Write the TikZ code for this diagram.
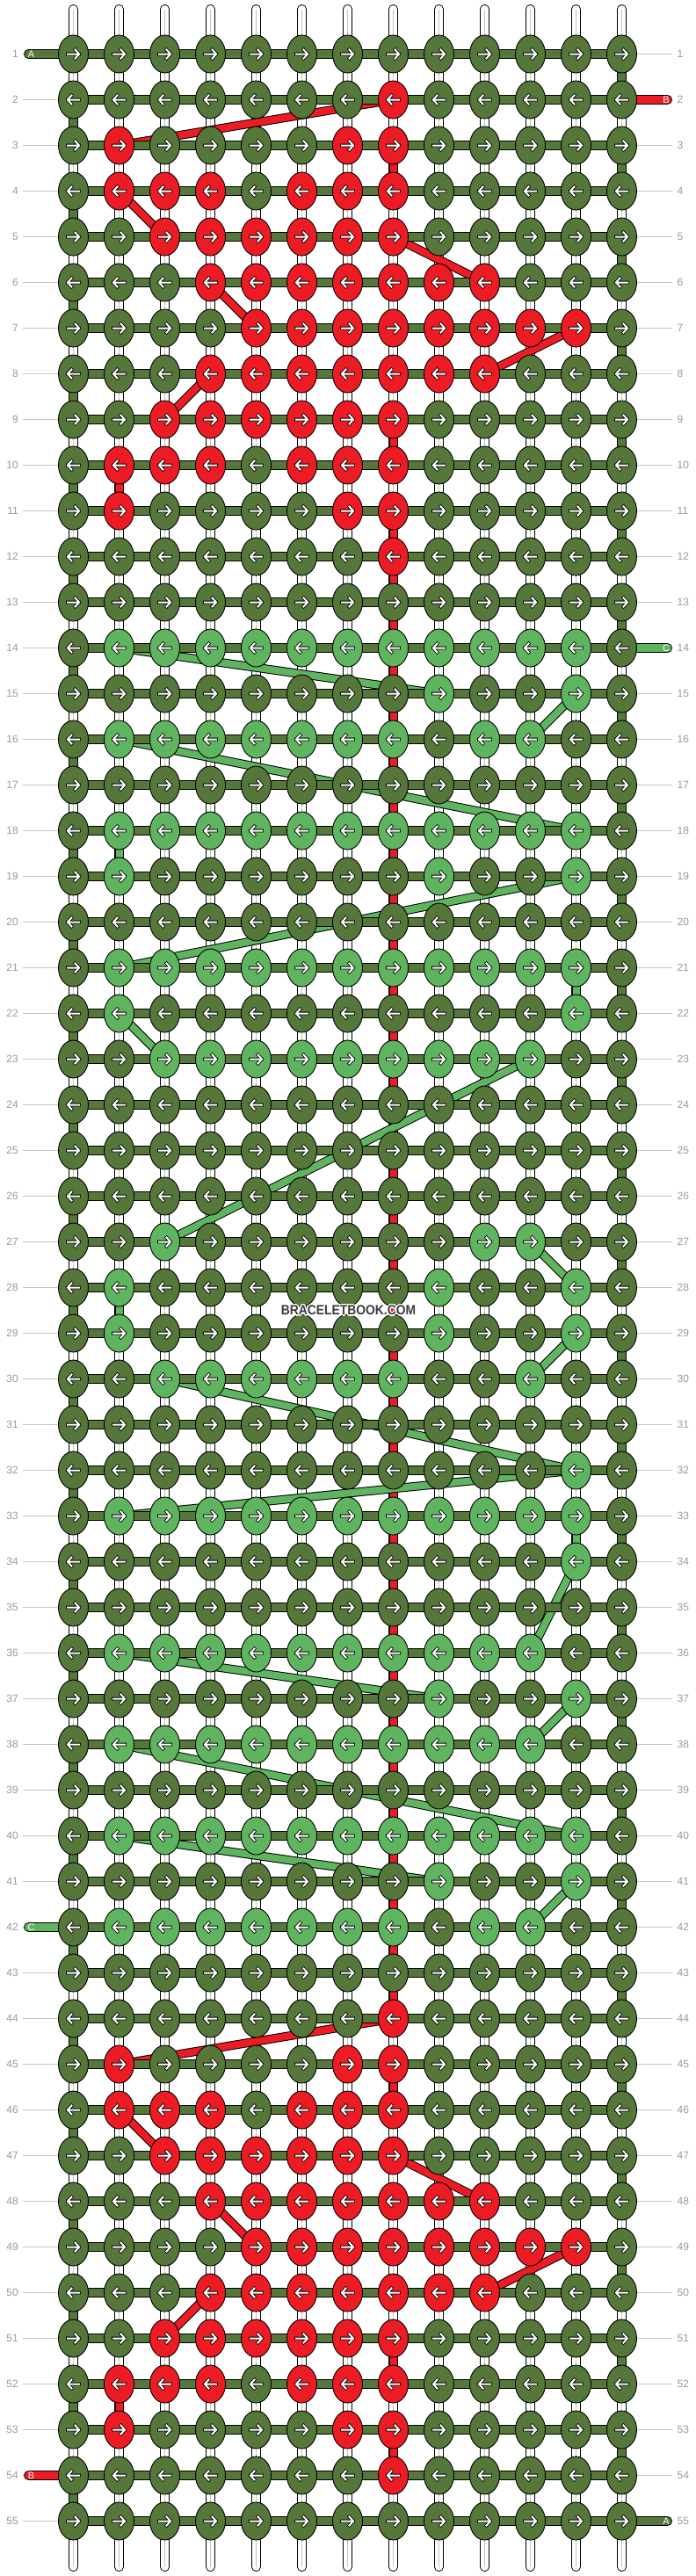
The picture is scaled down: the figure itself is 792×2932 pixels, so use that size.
\documentclass[tikz,border=0pt]{standalone}
\usepackage{fontspec}
\setmainfont{Liberation Sans}
\usetikzlibrary{shapes.geometric}
\definecolor{dg}{HTML}{55783A}
\definecolor{lg}{HTML}{5FB45F}
\definecolor{rd}{HTML}{ED1C24}
\definecolor{numgray}{HTML}{9A9A9A}
\definecolor{rulegray}{HTML}{C4C4C4}
\definecolor{wmgray}{HTML}{3C3C3C}
\pgfdeclarelayer{paper}
\pgfdeclarelayer{strings}
\pgfdeclarelayer{threads}
\pgfdeclarelayer{bars}
\pgfsetlayers{paper,strings,threads,bars,main}
\tikzset{
  knot/.style={ellipse, draw=black, line width=0.9pt, minimum width=34pt, minimum height=43pt, inner sep=0pt},
  arrowout/.style={black, line width=3.6pt, line cap=rect, line join=miter},
  arrowin/.style={white, line width=2pt, line cap=rect, line join=miter},
  strout/.style={black, line width=11pt, line cap=round},
  strin/.style={white, line width=9pt, line cap=round},
  strmid/.style={rulegray, line width=0.8pt},
  barout/.style={black, line width=11pt},
  barin/.style={color=dg, line width=9pt},
  throut/.style={black, line width=10pt},
  thrin/.style={line width=8pt},
  tailout/.style={black, line width=11pt, line cap=round},
  tailin/.style={line width=9pt, line cap=round},
  rownum/.style={font=\fontsize{12}{14}\selectfont, text=numgray, inner sep=0pt},
  taillbl/.style={font=\fontsize{11}{13}\selectfont, text=white, inner sep=0pt},
  numrule/.style={rulegray, line width=1pt},
  wm/.style={font=\bfseries\fontsize{15.4}{17}\selectfont, inner sep=0pt},
}
\begin{document}
\begin{tikzpicture}[x=1pt,y=-1pt]
\useasboundingbox (0,0) rectangle (792,2932);
\begin{pgfonlayer}{paper}
\fill[white] (0,0) rectangle (792,2932);
\end{pgfonlayer}
% colour table: red (top block and its copy 42 rows lower)
\foreach \r/\a/\b in {2/7/7, 3/1/1, 3/6/7, 4/1/3, 4/5/7, 5/2/7, 6/3/9, 7/4/11, 8/3/9, 9/2/7, 10/1/3, 10/5/7, 11/1/1, 11/6/7, 12/7/7} {
  \foreach \off in {0,42} {
    \pgfmathtruncatemacro{\rr}{\r+\off}
    \foreach \c in {\a,...,\b} {\expandafter\xdef\csname kc-\rr-\c\endcsname{rd}}
  }
}
% light green
\foreach \r/\a/\b in {14/1/11, 15/8/8, 15/11/11, 16/1/7, 16/9/10, 18/1/11, 19/1/1, 19/8/8, 19/11/11, 21/1/11, 22/1/1, 22/11/11, 23/2/10, 27/2/2, 27/9/10, 28/1/1, 28/8/8, 28/11/11, 29/1/1, 29/8/8, 29/11/11, 30/2/7, 30/10/10, 32/11/11, 33/1/11, 34/11/11, 36/1/10, 37/8/8, 37/11/11, 38/1/10, 40/1/11, 41/8/8, 41/11/11, 42/1/7, 42/9/10} {
  \foreach \c in {\a,...,\b} {\expandafter\xdef\csname kc-\r-\c\endcsname{lg}}
}
% knots
\foreach \r in {1,...,55} {
  \ifodd\r \def\dir{1}\else\def\dir{-1}\fi
  \pgfmathsetmacro{\ky}{61.5+52*(\r-1)}
  \foreach \c in {0,...,12} {
    \ifcsname kc-\r-\c\endcsname \edef\kcol{\csname kc-\r-\c\endcsname}\else\def\kcol{dg}\fi
    \pgfmathsetmacro{\kx}{83.5+52*\c}
    \node[knot, fill=\kcol] (k-\r-\c) at (\kx,\ky) {};
    \begin{scope}[shift={(\kx,\ky)}, xscale=\dir]
      \draw[arrowout] (-6.5,0) -- (6.5,0) (2,-5) -- (6.5,0) -- (2,5);
      \draw[arrowin] (-6.5,0) -- (6.5,0) (2,-5) -- (6.5,0) -- (2,5);
    \end{scope}
  }
}
% vertical base strings
\begin{pgfonlayer}{strings}
\foreach \c in {0,...,12} {
  \coordinate (st-\c) at ({83.5+52*\c},10.5);
  \coordinate (sb-\c) at ({83.5+52*\c},2921.5);
  \draw[strout] (st-\c) -- (sb-\c);
  \draw[strin] (st-\c) -- (sb-\c);
  \draw[strmid] (st-\c) -- (sb-\c);
}
% row number rules
\foreach \r in {1,...,55} {
  \coordinate (ll-\r) at (26,{61.5+52*(\r-1)});
  \coordinate (rl-\r) at (765,{61.5+52*(\r-1)});
  \draw[numrule] (ll-\r) -- (k-\r-0.west);
  \draw[numrule] (k-\r-12.east) -- (rl-\r);
}
\end{pgfonlayer}
% coloured threads B (red) and C (light green)
\begin{pgfonlayer}{threads}
\foreach \ra/\ca/\rb/\cb in {2/7/3/1, 3/7/4/7, 4/1/5/2, 5/7/6/9, 6/3/7/4, 7/11/8/9, 8/3/9/2, 9/7/10/7, 10/1/11/1, 11/7/12/7, 12/7/44/7, 44/7/45/1, 45/7/46/7, 46/1/47/2, 47/7/48/9, 48/3/49/4, 49/11/50/9, 50/3/51/2, 51/7/52/7, 52/1/53/1, 53/7/54/7} {
  \draw[throut] (k-\ra-\ca.center) -- (k-\rb-\cb.center);
  \draw[thrin, color=rd] (k-\ra-\ca.center) -- (k-\rb-\cb.center);
}
\foreach \ra/\ca/\rb/\cb in {14/1/15/8, 15/11/16/10, 16/1/18/11, 18/1/19/1, 19/11/21/1, 21/11/22/11, 22/1/23/2, 23/10/27/2, 27/10/28/11, 28/1/29/1, 29/11/30/10, 30/2/32/11, 32/11/33/1, 33/11/34/11, 34/11/36/10, 36/1/37/8, 37/11/38/10, 38/1/40/11, 40/1/41/8, 41/11/42/10} {
  \draw[throut] (k-\ra-\ca.center) -- (k-\rb-\cb.center);
  \draw[thrin, color=lg] (k-\ra-\ca.center) -- (k-\rb-\cb.center);
}
\end{pgfonlayer}
% main thread A: rows and turns, and the tails
\begin{pgfonlayer}{bars}
\foreach \r in {1,...,55} {
  \draw[barout] (k-\r-0.center) -- (k-\r-12.center);
  \draw[barin] (k-\r-0.center) -- (k-\r-12.center);
}
\foreach \r in {1,...,54} {
  \pgfmathtruncatemacro{\rn}{\r+1}
  \ifodd\r \def\tc{12}\else\def\tc{0}\fi
  \draw[barout] (k-\r-\tc.center) -- (k-\rn-\tc.center);
  \draw[barin] (k-\r-\tc.center) -- (k-\rn-\tc.center);
}
\foreach \r/\col/\lt in {1/dg/A, 42/lg/C, 54/rd/B} {
  \coordinate (tl-\r) at (32.5,{61.5+52*(\r-1)});
  \draw[tailout] (k-\r-0.center) -- (tl-\r);
  \draw[tailin, color=\col] (k-\r-0.center) -- (tl-\r);
  \node[taillbl] (tll-\r) at (35.5,{61.5+52*(\r-1)}) {\lt};
}
\foreach \r/\col/\lt in {2/rd/B, 14/lg/C, 55/dg/A} {
  \coordinate (tr-\r) at (759.5,{61.5+52*(\r-1)});
  \draw[tailout] (k-\r-12.center) -- (tr-\r);
  \draw[tailin, color=\col] (k-\r-12.center) -- (tr-\r);
  \node[taillbl] (trl-\r) at (758,{61.5+52*(\r-1)}) {\lt};
}
\end{pgfonlayer}
% row numbers
\foreach \r in {1,...,55} {
  \node[rownum, anchor=east] (nl-\r) at (21,{61.5+52*(\r-1)}) {\r};
  \node[rownum, anchor=west] (nr-\r) at (770.5,{61.5+52*(\r-1)}) {\r};
}
% watermark with white halo
\foreach \dx/\dy [count=\i] in {-1/-1,-1/0,-1/1,0/-1,0/1,1/-1,1/0,1/1,-1.5/0,1.5/0,0/-1.5,0/1.5} {
  \node[wm, text=white] (wmh-\i) at (396.5+\dx,1491.5+\dy) {\scalebox{0.9}[1]{BRACELETBOOK.COM}};
}
\node[wm, text=wmgray] (wmark) at (396.5,1491.5) {\scalebox{0.9}[1]{BRACELETBOOK.COM}};
\end{tikzpicture}
\end{document}
